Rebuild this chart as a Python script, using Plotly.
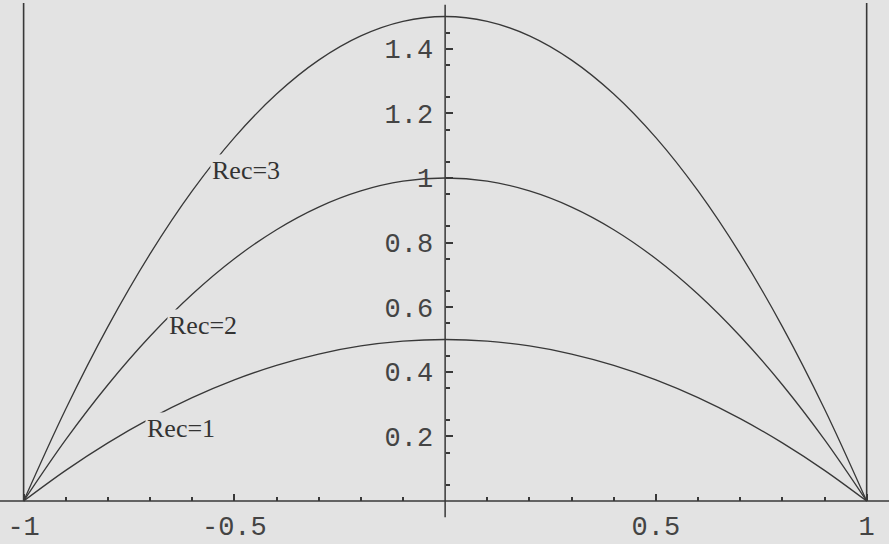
import numpy as np
import plotly.graph_objects as go

# values (x from -1 to 1 in steps of 0.1)
x_vals = [-1.0, -0.9, -0.8, -0.7, -0.6, -0.5, -0.4, -0.3, -0.2, -0.1, 0.0,
          0.1, 0.2, 0.3, 0.4, 0.5, 0.6, 0.7, 0.8, 0.9, 1.0]
rec1 = [0.0, 0.095, 0.18, 0.255, 0.32, 0.375, 0.42, 0.455, 0.48, 0.495, 0.5,
        0.495, 0.48, 0.455, 0.42, 0.375, 0.32, 0.255, 0.18, 0.095, 0.0]
rec2 = [0.0, 0.19, 0.36, 0.51, 0.64, 0.75, 0.84, 0.91, 0.96, 0.99, 1.0,
        0.99, 0.96, 0.91, 0.84, 0.75, 0.64, 0.51, 0.36, 0.19, 0.0]
rec3 = [0.0, 0.285, 0.54, 0.765, 0.96, 1.125, 1.26, 1.365, 1.44, 1.485, 1.5,
        1.485, 1.44, 1.365, 1.26, 1.125, 0.96, 0.765, 0.54, 0.285, 0.0]
curve_names = ["Rec=1", "Rec=2", "Rec=3"]
walls = [-1, 1]

x_ticks = [-1, -0.5, 0.5, 1]
x_tick_text = ["-1", "-0.5", "0.5", "1"]
y_ticks = [0.2, 0.4, 0.6, 0.8, 1.0, 1.2, 1.4]
y_tick_text = ["0.2", "0.4", "0.6", "0.8", "1", "1.2", "1.4"]

bg = "#e3e3e3"
ink = "#383838"
x_range = [-1.056, 1.053]
y_range = [-0.133, 1.551]

fig = go.Figure()
for name, ys in zip(curve_names, [rec1, rec2, rec3]):
    fig.add_trace(go.Scatter(x=x_vals, y=ys, mode="lines", name=name,
                             line=dict(color=ink, width=1.3, shape="spline")))

# side walls at x = -1 and x = 1, standing on the x axis
for w in walls:
    fig.add_shape(type="line", x0=w, x1=w, xref="x", y0=0, y1=1.542, yref="y",
                  line=dict(color=ink, width=1.6))
# axis lines crossing at the origin (Mathematica style)
fig.add_shape(type="line", x0=0, x1=1, xref="paper", y0=0, y1=0, yref="y",
              line=dict(color=ink, width=1.5))
fig.add_shape(type="line", x0=0, x1=0, xref="x", y0=-0.05, y1=1.536, yref="y",
              line=dict(color=ink, width=1.5))

# curve labels, box colour masks the curve behind the text
label_pos = [(-0.712, 0.226), (-0.660, 0.542), (-0.558, 1.022)]
for name, (lx, ly) in zip(curve_names, label_pos):
    fig.add_annotation(x=lx, y=ly, text=name, showarrow=False, xanchor="left",
                       yanchor="middle", bgcolor=bg, borderpad=1,
                       font=dict(family="Liberation Serif", size=26, color="#333"))

x_pos = (0 - y_range[0]) / (y_range[1] - y_range[0])
y_pos = (0 - x_range[0]) / (x_range[1] - x_range[0])
tick_font = dict(family="Liberation Mono", size=27, color="#444")

fig.update_layout(
    width=889, height=544,
    margin=dict(l=0, r=0, t=0, b=0),
    paper_bgcolor=bg, plot_bgcolor=bg,
    showlegend=False,
    xaxis=dict(range=x_range, anchor="free", position=x_pos, showgrid=False,
               zeroline=False, showline=False, tickmode="array",
               tickvals=x_ticks, ticktext=x_tick_text, ticks="inside",
               ticklen=7, tickwidth=1.5, tickcolor=ink, tickfont=tick_font,
               ticklabelstandoff=6, automargin=False,
               minor=dict(tickmode="array",
                          tickvals=[round(v, 2) for v in np.arange(-0.9, 1.0, 0.1)
                                    if abs(round(v, 2)) not in (0.5, 0.0)],
                          ticks="inside", ticklen=4, tickwidth=1.5, tickcolor=ink)),
    yaxis=dict(range=y_range, anchor="free", position=y_pos, showgrid=False,
               zeroline=False, showline=False, tickmode="array",
               tickvals=y_ticks, ticktext=y_tick_text, ticks="inside",
               ticklen=7, tickwidth=1.5, tickcolor=ink, tickfont=tick_font,
               ticklabelstandoff=12, automargin=False,
               minor=dict(tickmode="array",
                          tickvals=[round(v, 2) for v in np.arange(0.05, 1.5, 0.1)],
                          ticks="inside", ticklen=4, tickwidth=1.5, tickcolor=ink)),
)

# drop the default page margin so the figure fills the window
fig.write_html("out.html", config={"displayModeBar": False},
               post_script="document.body.style.margin='0';"
                           "document.body.style.overflow='hidden';")
